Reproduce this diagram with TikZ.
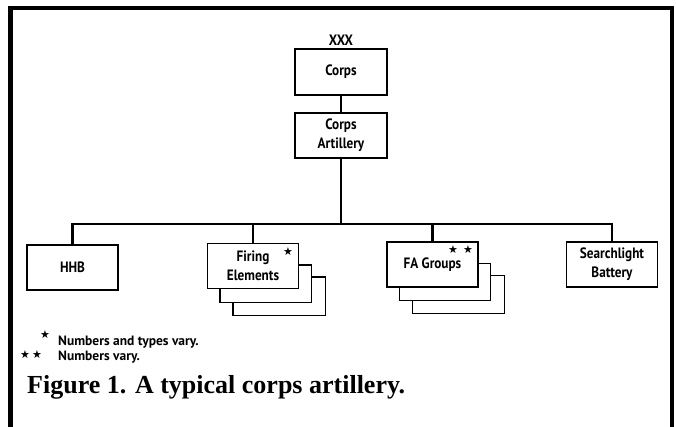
\documentclass[tikz,border=0pt]{standalone}
\usepackage{fontspec}
\setmainfont{Liberation Serif}
\setsansfont{PT Sans}[FakeStretch=0.88]
\newfontfamily\notefont{PT Sans}
\newfontfamily\symbolfont{DejaVu Sans}

\pgfdeclarelayer{background}
\pgfsetlayers{background,main}

\tikzset{
  unitbox/.style={draw, line width=1.2pt, fill=white, minimum width=91pt,
    minimum height=45pt, align=center, inner sep=0pt,
    font=\sffamily\bfseries\fontsize{15}{19}\selectfont},
  copybox/.style={draw, line width=1.2pt, fill=white},
  trunk/.style={line width=2.8pt},
  starmark/.style={font=\symbolfont\fontsize{11}{11}\selectfont, inner sep=0pt},
  notetext/.style={font=\notefont\bfseries\fontsize{13.5}{15}\selectfont,
    inner sep=0pt, anchor=base west},
}

\begin{document}
\begin{tikzpicture}[x=1pt,y=-1pt]
\useasboundingbox (0,0) rectangle (676,427);
% page frame, open at the bottom
\draw[line width=4.5pt] (10.5,427) -- (10.5,8) -- (672,8) -- (672,427);

% headquarters
\node[unitbox, minimum width=92pt, minimum height=46pt] (corps) at (341,72) {Corps};
\node[font=\sffamily\bfseries\fontsize{15}{15}\selectfont, inner sep=0pt] (echelon) at (341,40) {XXX};
\node[unitbox, minimum width=92pt] (corpsart) at (341,135.5) {Corps\\Artillery};

% subordinate units
\node[unitbox] (hhb) at (72.5,267.5) {HHB};
\node[unitbox] (firing) at (253,266) {Firing\\Elements};
\node[unitbox] (fagroups) at (432.5,264.5) {FA Groups};
\node[unitbox] (searchlight) at (612,264.5) {Searchlight\\Battery};

% stacked copies behind the variable units
\begin{pgfonlayer}{background}
\foreach \unit in {firing,fagroups} {
  \draw[copybox] ([shift={(26,26)}]\unit.south west) rectangle ([shift={(26,34)}]\unit.north east);
  \draw[copybox] ([shift={(13,13)}]\unit.south west) rectangle ([shift={(12,22)}]\unit.north east);
}
\end{pgfonlayer}

\node[starmark] (firing-star) at ([shift={(-11,9)}]firing.north east) {★};
\node[starmark] (fagroups-star) at ([shift={(-18,8)}]fagroups.north east) {★\hspace{5pt}★};

% lines of command
\coordinate (bus) at (341,224);
\draw[trunk] (corps) -- (corpsart);
\draw[trunk] (corpsart.south) -- (bus);
\draw[trunk] (hhb.north) -- (hhb.north |- bus) -- (searchlight.north |- bus) -- (searchlight.north);
\foreach \unit in {firing,fagroups}
  \draw[trunk] (\unit.north |- bus) -- (\unit.north);

% notes
\node[starmark] (note1-star) at (45,335) {★};
\node[notetext] (note1) at (58,345) {Numbers and types vary.};
\node[starmark, anchor=west] (note2-star) at (20,355) {★\hspace{2pt}★};
\node[notetext] (note2) at (58,360) {Numbers vary.};

\node[anchor=base west, inner sep=0pt, font=\rmfamily\bfseries\fontsize{26}{30}\selectfont]
  (caption) at (27,393) {Figure 1. A typical corps artillery.};
\end{tikzpicture}
\end{document}
